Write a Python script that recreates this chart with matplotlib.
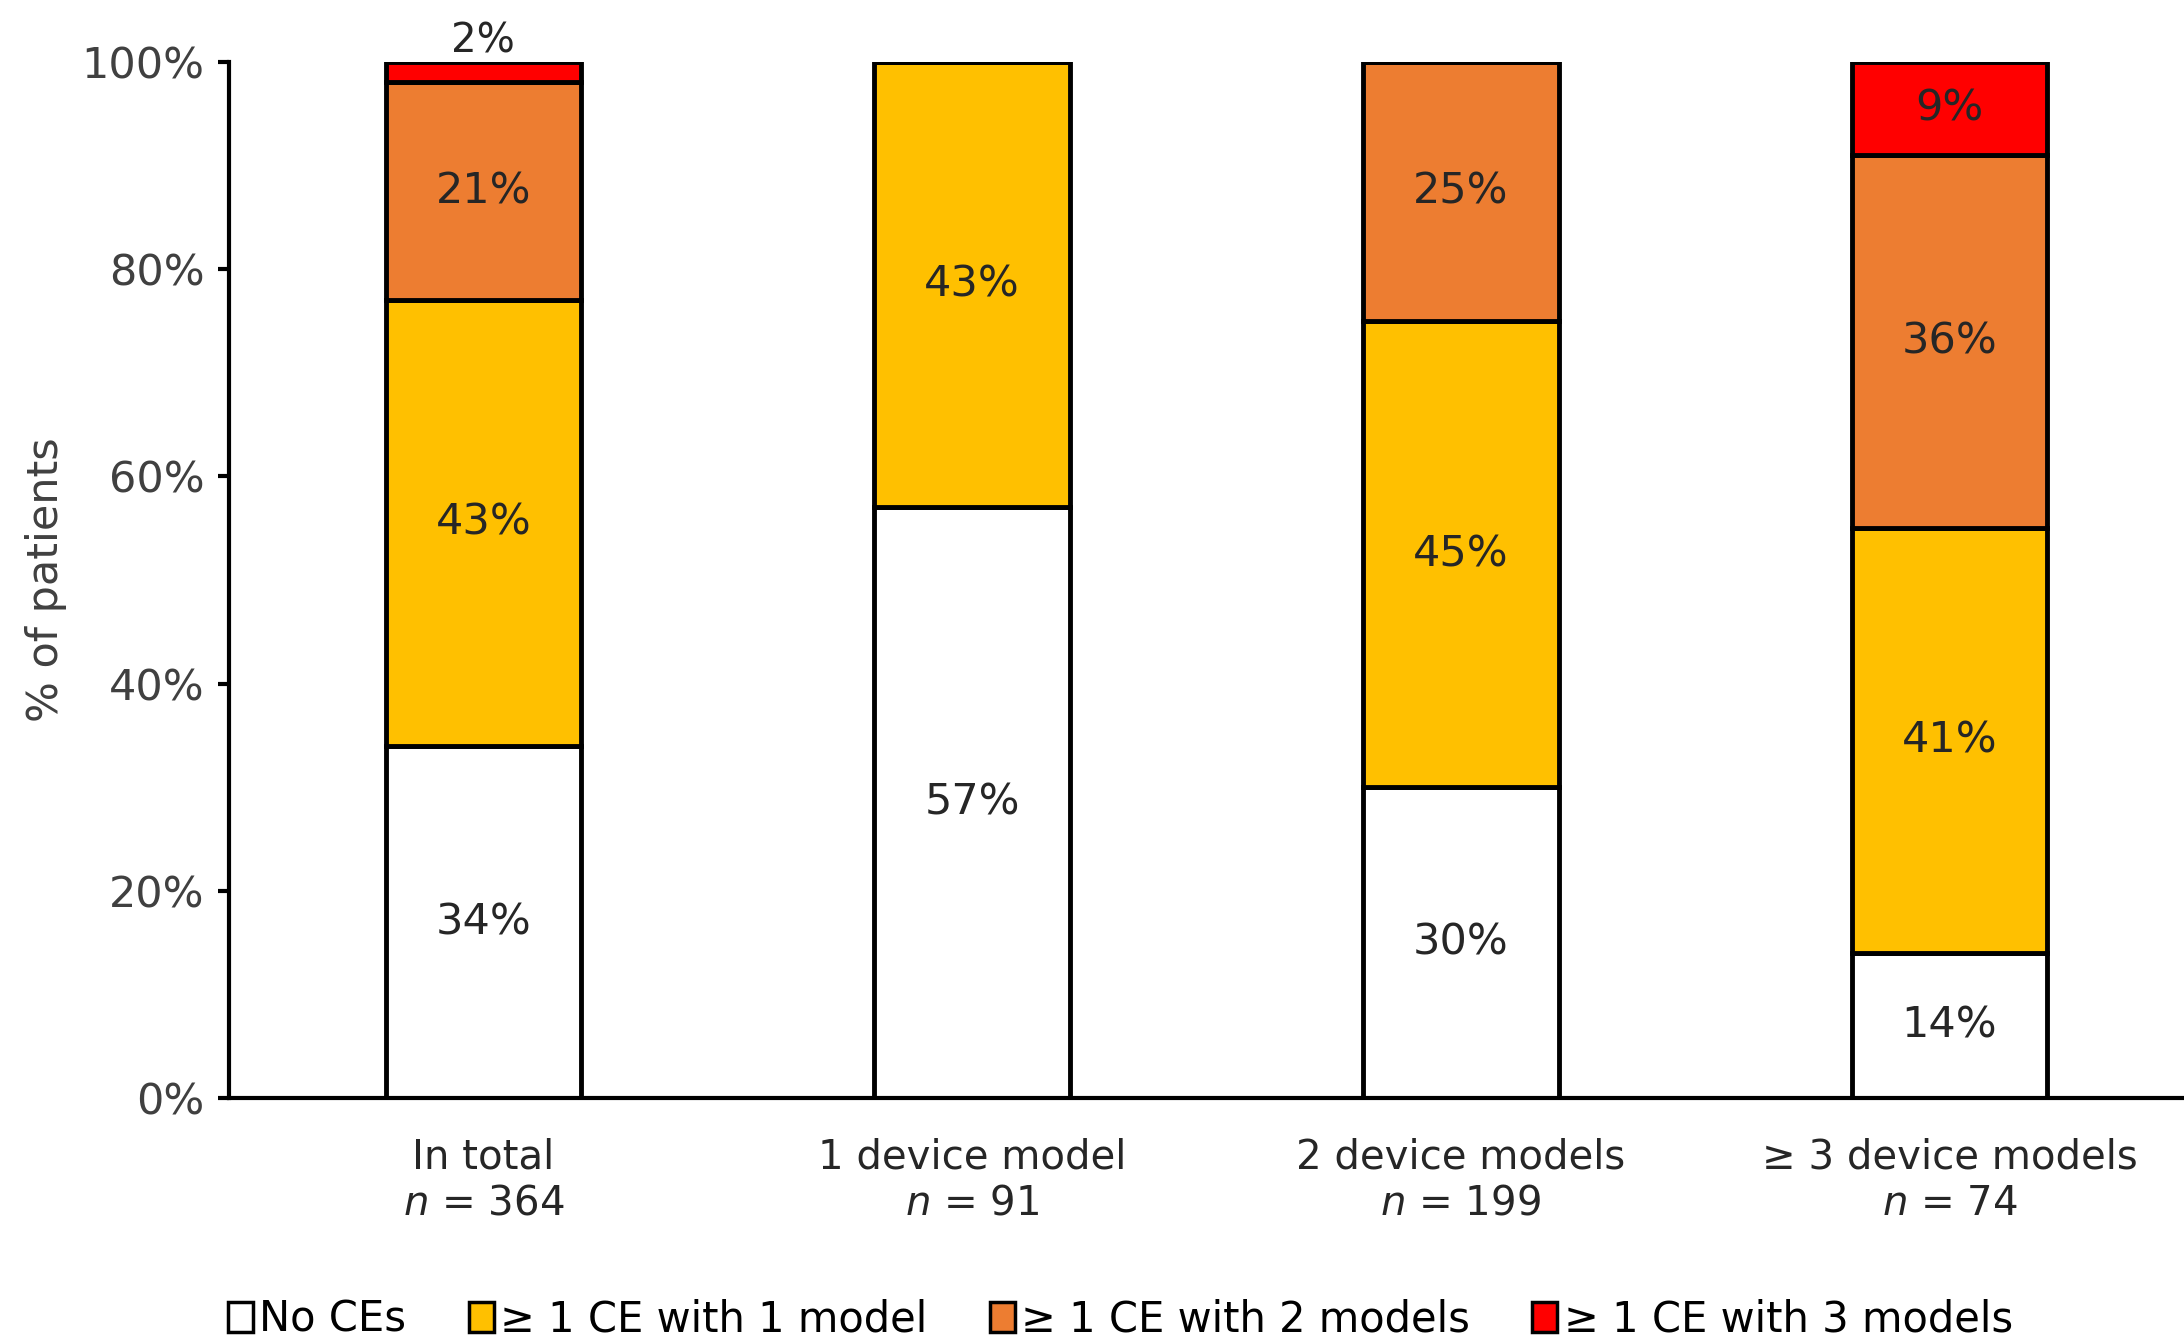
import numpy as np
import matplotlib
matplotlib.use('Agg')
import matplotlib.pyplot as plt
from matplotlib.patches import Patch

categories = ['In total', '1 device model', '2 device models', '\u2265 3 device models']
n_values = [364, 91, 199, 74]
series_names = ['No CEs', '\u2265 1 CE with 1 model', '\u2265 1 CE with 2 models', '\u2265 1 CE with 3 models']
no_ce = [34, 57, 30, 14]
ce_1 = [43, 43, 45, 41]
ce_2 = [21, 0, 25, 36]
ce_3 = [2, 0, 0, 9]
colors = ['#FFFFFF', '#FFC000', '#ED7D31', '#FF0000']

plt.rcParams['font.family'] = ['DejaVu Sans']
fig = plt.figure(figsize=(21.84, 13.38), dpi=100)
ax = fig.add_axes([0.105, 0.179, 0.895, 0.775])

x = np.arange(len(categories))
width = 0.4
bottom = np.zeros(len(categories))
series = [no_ce, ce_1, ce_2, ce_3]
for vals, col, name in zip(series, colors, series_names):
    vals = np.array(vals, dtype=float)
    ax.bar(x, vals, width, bottom=bottom, color=col, edgecolor='black',
           linewidth=3.5, label=name)
    for i, v in enumerate(vals):
        if v <= 0:
            continue
        if v < 5:
            # small slice: label above the bar
            ax.text(x[i], bottom[i] + v, f'{int(v)}%', ha='center', va='bottom',
                    fontsize=29, color='#262626')
        else:
            ax.text(x[i], bottom[i] + v / 2, f'{int(v)}%', ha='center', va='center',
                    fontsize=31, color='#262626')
    bottom += vals

ax.set_xlim(-0.52, 3.48)
ax.set_ylim(0, 100)
ax.set_yticks(np.arange(0, 101, 20))
ax.set_yticklabels([f'{v}%' for v in range(0, 101, 20)], fontsize=31, color='#404040')
ax.set_xticks(x)
ax.set_xticklabels([f'{c}\n$n$ = {n}' for c, n in zip(categories, n_values)],
                   fontsize=29, color='#262626', linespacing=1.2)
ax.tick_params(axis='x', length=0, pad=28)
ax.tick_params(axis='y', length=8, width=3, pad=10)
for s in ['top', 'right']:
    ax.spines[s].set_visible(False)
ax.spines['left'].set_linewidth(3)
ax.spines['bottom'].set_linewidth(3)
ax.set_ylabel('% of patients', fontsize=31, color='#404040', labelpad=10)

handles = [Patch(facecolor=c, edgecolor='black', linewidth=2.5) for c in colors]
fig.legend(handles, series_names, loc='lower center', bbox_to_anchor=(0.513, -0.03),
           ncol=4, frameon=False, fontsize=30, handlelength=0.6, handleheight=0.7,
           handletextpad=0.15, columnspacing=1.5)

fig.savefig('out.png', dpi=100)
